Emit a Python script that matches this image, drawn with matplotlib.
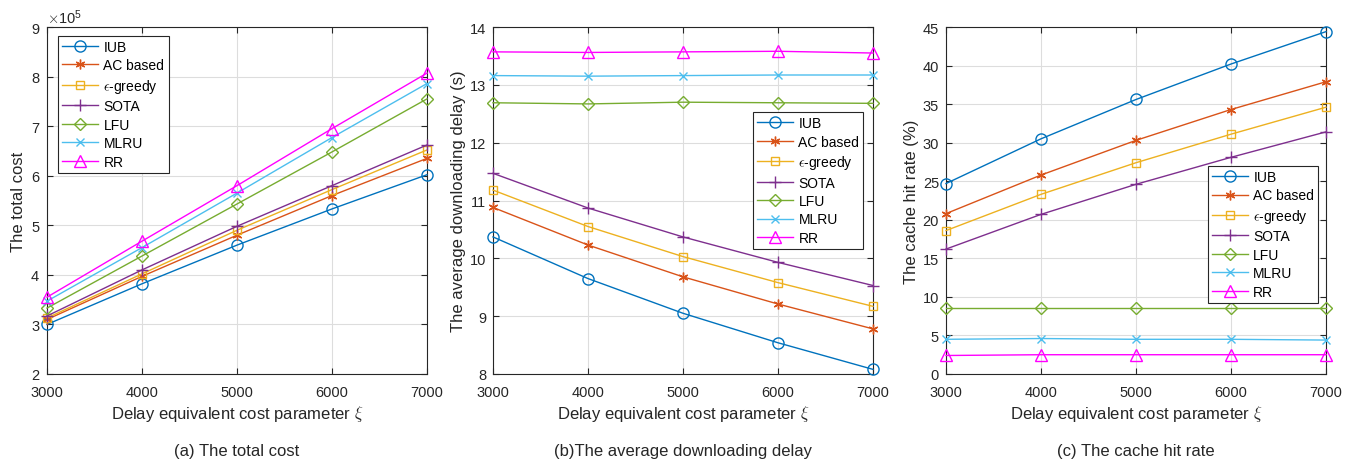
import matplotlib.pyplot as plt

plt.rcParams['font.family'] = ['Liberation Sans', 'DejaVu Sans']
plt.rcParams['mathtext.fontset'] = 'cm'

xi = [3000, 4000, 5000, 6000, 7000]
names = ['IUB', 'AC based', r'$\epsilon$-greedy', 'SOTA', 'LFU', 'MLRU', 'RR']
colors = ['#0072BD', '#D95319', '#EDB120', '#7E2F8E', '#77AC30', '#4DBEEE', '#FF00FF']
markers = ['o', (6, 2, 0), 's', '+', 'D', 'x', '^']
msizes = [8, 7, 6, 8, 6, 6, 8]

# (a) total cost
cost_iub = [3.00e5, 3.82e5, 4.60e5, 5.33e5, 6.02e5]
cost_ac = [3.10e5, 3.97e5, 4.80e5, 5.60e5, 6.35e5]
cost_eps = [3.13e5, 4.02e5, 4.90e5, 5.72e5, 6.52e5]
cost_sota = [3.17e5, 4.10e5, 4.98e5, 5.80e5, 6.62e5]
cost_lfu = [3.33e5, 4.38e5, 5.43e5, 6.48e5, 7.55e5]
cost_mlru = [3.47e5, 4.55e5, 5.65e5, 6.77e5, 7.86e5]
cost_rr = [3.55e5, 4.68e5, 5.80e5, 6.95e5, 8.07e5]

# (b) average downloading delay (s)
delay_iub = [10.37, 9.65, 9.05, 8.54, 8.08]
delay_ac = [10.88, 10.23, 9.68, 9.21, 8.78]
delay_eps = [11.18, 10.55, 10.03, 9.58, 9.17]
delay_sota = [11.47, 10.87, 10.37, 9.93, 9.53]
delay_lfu = [12.69, 12.67, 12.70, 12.69, 12.68]
delay_mlru = [13.16, 13.15, 13.16, 13.17, 13.17]
delay_rr = [13.57, 13.56, 13.57, 13.58, 13.55]

# (c) cache hit rate (%)
hit_iub = [24.7, 30.5, 35.6, 40.2, 44.4]
hit_ac = [20.8, 25.8, 30.3, 34.3, 37.9]
hit_eps = [18.6, 23.3, 27.4, 31.1, 34.6]
hit_sota = [16.2, 20.7, 24.6, 28.1, 31.4]
hit_lfu = [8.6, 8.6, 8.6, 8.6, 8.6]
hit_mlru = [4.5, 4.6, 4.5, 4.5, 4.4]
hit_rr = [2.4, 2.5, 2.5, 2.5, 2.5]

panels = [
    ([cost_iub, cost_ac, cost_eps, cost_sota, cost_lfu, cost_mlru, cost_rr],
     'The total cost', (2e5, 9e5), '(a) The total cost', 'upper left', (0.028, 0.975)),
    ([delay_iub, delay_ac, delay_eps, delay_sota, delay_lfu, delay_mlru, delay_rr],
     'The average downloading delay (s)', (8, 14), '(b)The average downloading delay',
     'upper right', (0.975, 0.755)),
    ([hit_iub, hit_ac, hit_eps, hit_sota, hit_lfu, hit_mlru, hit_rr],
     'The cache hit rate (%)', (0, 45), '(c) The cache hit rate', 'upper right', (0.98, 0.60)),
]

fig = plt.figure(figsize=(13.51, 4.64), dpi=100)
lefts = [47, 493, 946]
W, H = 1351, 464

for left, (series, ylab, ylim, caption, loc, anchor) in zip(lefts, panels):
    ax = fig.add_axes([left / W, (H - 375) / H, 380 / W, 347 / H])
    for s, name, c, m, ms in zip(series, names, colors, markers, msizes):
        ax.plot(xi, s, color=c, marker=m, markersize=ms, markerfacecolor='none',
                markeredgecolor=c, linewidth=1, label=name, clip_on=False, zorder=3)
    ax.set_xlim(3000, 7000)
    ax.set_ylim(*ylim)
    ax.set_xticks(xi)
    ax.grid(True, color='#dddddd', linewidth=0.8)
    ax.set_axisbelow(True)
    ax.tick_params(direction='in', top=True, right=True, labelsize=10.5,
                   colors='#262626', length=4)
    ax.tick_params(axis='x', pad=8)
    ax.tick_params(axis='y', pad=5)
    for sp in ax.spines.values():
        sp.set_color('#262626')
        sp.set_linewidth(0.8)
    ax.set_ylabel(ylab, fontsize=12, color='#262626', labelpad=3)
    ax.set_xlabel(r'Delay equivalent cost parameter $\xi$', fontsize=12, color='#262626',
                  labelpad=3)
    leg = ax.legend(loc=loc, bbox_to_anchor=anchor, fontsize=10, fancybox=False,
                    framealpha=1, edgecolor='#262626', handlelength=2.6,
                    borderpad=0.3, labelspacing=0.32, handletextpad=0.4,
                    borderaxespad=0)
    leg.get_frame().set_linewidth(0.8)
    leg.set_zorder(5)
    ax.text(0.5, -0.2, caption, transform=ax.transAxes, ha='center', va='top',
            fontsize=12, color='#262626')

ax0 = fig.axes[0]
ax0.ticklabel_format(axis='y', style='sci', scilimits=(5, 5), useMathText=True)
ax0.yaxis.get_offset_text().set_fontsize(10.5)

fig.savefig('out.png', dpi=100)
